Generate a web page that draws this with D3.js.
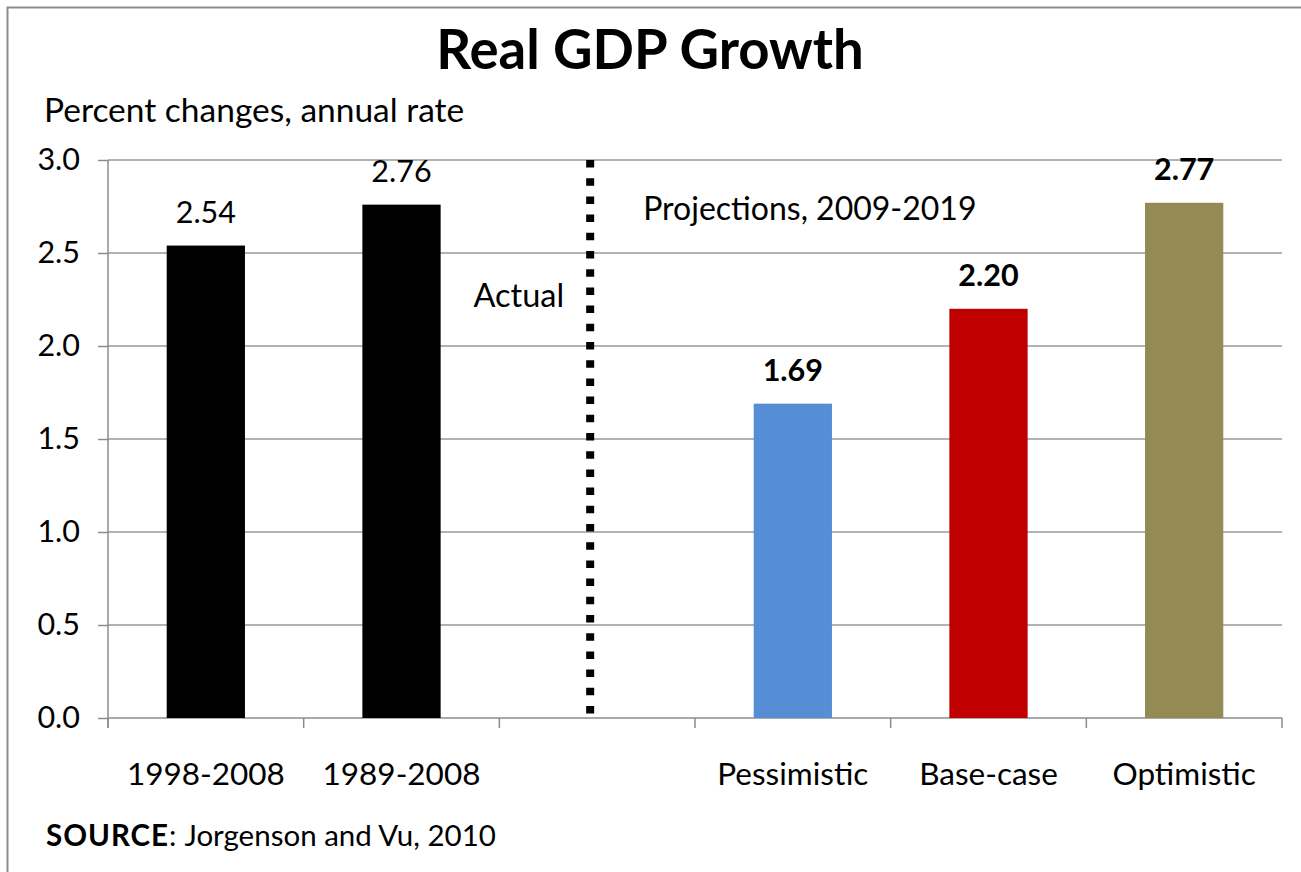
<!DOCTYPE html>
<html>
<head>
<meta charset="utf-8">
<script src="https://cdn.jsdelivr.net/npm/d3@7"></script>
<style>
  html, body { margin: 0; padding: 0; background: #fff; }
  svg text { font-family: Lato, "Open Sans", sans-serif; fill: #000; }
</style>
</head>
<body>
<svg id="chart" width="1301" height="872"></svg>
<script>
// Real GDP growth, percent change at annual rate
const categories = ["1998-2008", "1989-2008", "", "Pessimistic", "Base-case", "Optimistic"];
const values = [2.54, 2.76, null, 1.69, 2.20, 2.77];
const barColors = ["#000000", "#000000", null, "#558ED5", "#C00000", "#948A54"];
const boldLabels = [false, false, null, true, true, true];
const yTicks = [0, 0.5, 1.0, 1.5, 2.0, 2.5, 3.0];

const svg = d3.select("#chart");
const W = 1301, H = 872;
const plot = { left: 108, right: 1282, top: 160, bottom: 718 };

// outer frame (right and bottom edges fall off the canvas)
svg.append("rect")
  .attr("x", 7.5).attr("y", 7.5)
  .attr("width", W).attr("height", H)
  .attr("fill", "none").attr("stroke", "#8c8c8c").attr("stroke-width", 2);

const x = d3.scaleBand()
  .domain(categories)
  .range([plot.left, plot.right])
  .paddingInner(0.6)
  .paddingOuter(0.3);

const y = d3.scaleLinear().domain([0, 3]).range([plot.bottom, plot.top]);

// horizontal gridlines
svg.append("g")
  .selectAll("line")
  .data(yTicks.filter(d => d > 0))
  .join("line")
  .attr("x1", plot.left).attr("x2", plot.right)
  .attr("y1", d => y(d)).attr("y2", d => y(d))
  .attr("stroke", "#989898").attr("stroke-width", 1.5);

// y axis
const yAxis = svg.append("g")
  .attr("transform", `translate(${plot.left},0)`)
  .call(d3.axisLeft(y).tickValues(yTicks).tickFormat(d3.format(".1f")).tickSize(10).tickPadding(18));
yAxis.select(".domain").attr("stroke", "#8c8c8c").attr("stroke-width", 1.5)
  .attr("d", `M0,${plot.top}V${plot.bottom + 10}`);
yAxis.selectAll(".tick line").attr("stroke", "#8c8c8c").attr("stroke-width", 1.5);
yAxis.selectAll(".tick text").attr("font-size", 30.5).attr("fill", "#000")
  .style("font-family", "Lato, sans-serif");

// x axis baseline and category boundary ticks
const step = x.step();
const boundaries = d3.range(categories.length + 1).map(i => plot.left + i * step);
svg.append("line")
  .attr("x1", plot.left).attr("x2", plot.right)
  .attr("y1", y(0)).attr("y2", y(0))
  .attr("stroke", "#8c8c8c").attr("stroke-width", 1.5);
svg.append("g")
  .selectAll("line")
  .data(boundaries)
  .join("line")
  .attr("x1", d => d).attr("x2", d => d)
  .attr("y1", y(0)).attr("y2", y(0) + 10)
  .attr("stroke", "#8c8c8c").attr("stroke-width", 1.5);

// bars
const rows = categories.map((c, i) => ({ c, v: values[i], color: barColors[i], bold: boldLabels[i] }))
  .filter(d => d.v !== null);

svg.append("g")
  .selectAll("rect")
  .data(rows)
  .join("rect")
  .attr("x", d => x(d.c))
  .attr("width", x.bandwidth())
  .attr("y", d => y(d.v))
  .attr("height", d => y(0) - y(d.v))
  .attr("fill", d => d.color);

// value labels
svg.append("g")
  .selectAll("text")
  .data(rows)
  .join("text")
  .attr("x", d => x(d.c) + x.bandwidth() / 2)
  .attr("y", d => y(d.v) - 23)
  .attr("text-anchor", "middle")
  .attr("font-size", 30.5)
  .attr("font-weight", d => d.bold ? "bold" : "normal")
  .text(d => d.v.toFixed(2));

// category labels
svg.append("g")
  .selectAll("text")
  .data(categories.filter(c => c !== ""))
  .join("text")
  .attr("x", d => x(d) + x.bandwidth() / 2)
  .attr("y", 785)
  .attr("text-anchor", "middle")
  .attr("font-size", 31.5)
  .text(d => d);

// divider between actual and projected periods
const divX = x("") + x.bandwidth() / 2 - 7;
svg.append("line")
  .attr("x1", divX).attr("x2", divX)
  .attr("y1", y(3)).attr("y2", y(0))
  .attr("stroke", "#000").attr("stroke-width", 8)
  .attr("stroke-dasharray", "7.5,10.7");

svg.append("text")
  .attr("x", divX - 26).attr("y", y(2.21))
  .attr("text-anchor", "end").attr("font-size", 32.5)
  .text("Actual");

svg.append("text")
  .attr("x", divX + 53).attr("y", y(2.68))
  .attr("font-size", 32)
  .text("Projections, 2009-2019");

// titles
svg.append("text")
  .attr("x", 650).attr("y", 69)
  .attr("text-anchor", "middle")
  .attr("font-size", 54.5).attr("font-weight", "bold")
  .text("Real GDP Growth");

svg.append("text")
  .attr("x", 44).attr("y", 122)
  .attr("font-size", 33.5)
  .text("Percent changes, annual rate");

// source note
const src = svg.append("text")
  .attr("x", 46).attr("y", 846)
  .attr("font-size", 29.5);
src.append("tspan").attr("font-weight", "bold").attr("letter-spacing", 1).text("SOURCE");
src.append("tspan").text(":");
src.append("tspan").attr("dx", 8).text("Jorgenson and Vu, 2010");
</script>
</body>
</html>
